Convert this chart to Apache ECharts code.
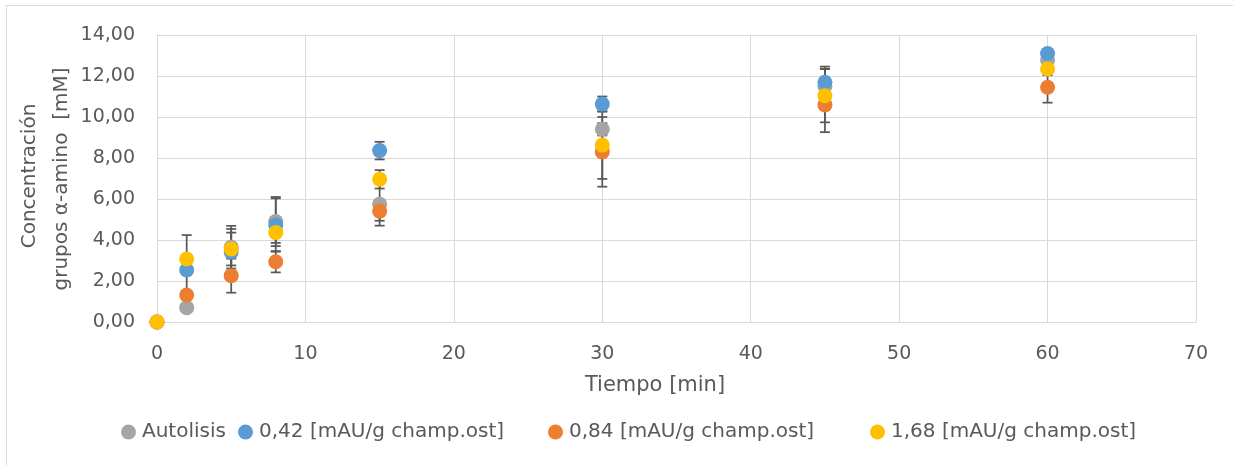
<!DOCTYPE html>
<html><head><meta charset="utf-8">
<script src="https://cdn.jsdelivr.net/npm/echarts@6/dist/echarts.min.js"></script>
<style>html,body{margin:0;padding:0;background:#fff}#c{width:1233px;height:465px}</style>
</head><body><div id="c"></div>
<script>
const times = [0, 2, 5, 8, 15, 30, 45, 60];
const seriesNames = ['Autolisis', '0,42 [mAU/g champ.ost]', '0,84 [mAU/g champ.ost]', '1,68 [mAU/g champ.ost]'];
const autolisis = [0, 0.70, 3.65, 4.90, 5.75, 9.40, 11.50, 12.78];
const dose042 = [0, 2.54, 3.41, 4.73, 8.36, 10.63, 11.69, 13.10];
const dose084 = [0, 1.32, 2.26, 2.94, 5.41, 8.30, 10.59, 11.45];
const dose168 = [0, 3.07, 3.56, 4.36, 6.96, 8.63, 11.04, 12.34];
const errAutolisis = [0, 0, 1.04, 1.20, 1.05, 0.30, 0.85, 0.20];
const err042 = [0, 1.70, 1.13, 1.30, 0.43, 0.37, 0.77, 0.20];
const err084 = [0, 0, 0.83, 0.52, 0.47, 1.70, 1.33, 0.75];
const err168 = [0, 0, 0.80, 0.50, 0.45, 1.65, 1.30, 0.30];
const yTicks = [0, 2, 4, 6, 8, 10, 12, 14];
const xTicks = [0, 10, 20, 30, 40, 50, 60, 70];

const colors = ['#A5A5A5', '#5B9BD5', '#ED7D31', '#FFC000'];
const values = [autolisis, dose042, dose084, dose168];
const errors = [errAutolisis, err042, err084, err168];
const FONT = 'DejaVu Sans';
const legendLeft = [121, 238, 548, 870];

function errRender(params, api) {
  const x = api.value(0), lo = api.value(1), hi = api.value(2);
  const a = api.coord([x, hi]), b = api.coord([x, lo]);
  const w = 5;
  const st = {stroke: '#595959', lineWidth: 1.75};
  return {type: 'group', children: [
    {type: 'line', shape: {x1: a[0], y1: a[1], x2: b[0], y2: b[1]}, style: st},
    {type: 'line', shape: {x1: a[0] - w, y1: a[1], x2: a[0] + w, y2: a[1]}, style: st},
    {type: 'line', shape: {x1: b[0] - w, y1: b[1], x2: b[0] + w, y2: b[1]}, style: st}
  ]};
}

const series = [];
values.forEach((vals, i) => {
  const ed = [];
  vals.forEach((v, j) => { if (errors[i][j] > 0) ed.push([times[j], v - errors[i][j], v + errors[i][j]]); });
  series.push({type: 'custom', name: 'err' + i, renderItem: errRender, data: ed, z: 1, silent: true,
    encode: {x: 0, y: [1, 2]}});
});
values.forEach((vals, i) => {
  series.push({type: 'scatter', name: seriesNames[i], data: vals.map((v, j) => [times[j], v]),
    symbol: 'circle', symbolSize: 15, itemStyle: {color: colors[i], opacity: 1}, z: 2 + i});
});

const legends = seriesNames.map((n, i) => ({
  data: [n], top: 422, left: legendLeft[i], itemGap: 0, itemWidth: 15, itemHeight: 15, padding: 0,
  icon: 'circle', selectedMode: false,
  textStyle: {color: '#595959', fontSize: 20, fontFamily: FONT, padding: [0, 0, 0, 1]}
}));

const fmt = v => v.toFixed(2).replace('.', ',');
const chart = echarts.init(document.getElementById('c'), null, {renderer: 'canvas'});
chart.setOption({
  animation: false,
  backgroundColor: '#fff',
  grid: {left: 157, right: 37, top: 35, bottom: 143},
  xAxis: {type: 'value', min: xTicks[0], max: xTicks[xTicks.length - 1], interval: 10,
    axisLine: {show: true, lineStyle: {color: '#d9d9d9', width: 1}}, axisTick: {show: false},
    splitLine: {show: true, lineStyle: {color: '#d9d9d9', width: 1}},
    axisLabel: {color: '#595959', fontSize: 19, fontFamily: FONT, margin: 23}},
  yAxis: {type: 'value', min: yTicks[0], max: yTicks[yTicks.length - 1], interval: 2,
    axisLine: {show: true, lineStyle: {color: '#d9d9d9', width: 1}}, axisTick: {show: false},
    splitLine: {show: true, lineStyle: {color: '#d9d9d9', width: 1}},
    axisLabel: {color: '#595959', fontSize: 19, fontFamily: FONT, margin: 22, formatter: fmt}},
  legend: legends,
  graphic: [
    {type: 'rect', shape: {x: 6.5, y: 5.5, width: 1240, height: 470}, style: {fill: 'none', stroke: '#d9d9d9', lineWidth: 1}, silent: true},
    {type: 'text', x: 655, y: 386, style: {text: 'Tiempo [min]', fill: '#595959', fontSize: 21, fontFamily: FONT, align: 'center', verticalAlign: 'middle'}},
    {type: 'text', x: 30, y: 176, rotation: Math.PI / 2, style: {text: 'Concentración', fill: '#595959', fontSize: 20, fontFamily: FONT, align: 'center', verticalAlign: 'middle'}},
    {type: 'text', x: 62, y: 179, rotation: Math.PI / 2, style: {text: 'grupos α-amino  [mM]', fill: '#595959', fontSize: 20, fontFamily: FONT, align: 'center', verticalAlign: 'middle'}}
  ],
  series: series
});
</script></body></html>
